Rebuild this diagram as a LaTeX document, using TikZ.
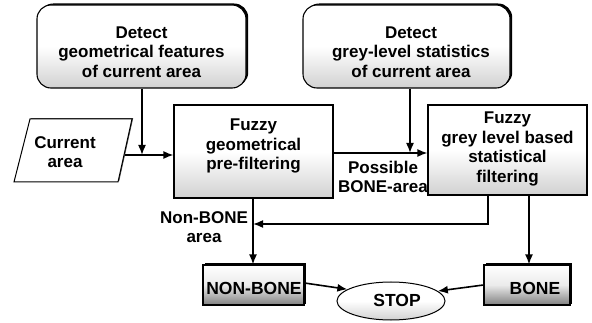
\documentclass[tikz,border=0pt]{standalone}
\usepackage{fontspec}
\setmainfont{Liberation Sans}
\usetikzlibrary{arrows.meta,shapes.geometric,shadows,calc}
\begin{document}
\begin{tikzpicture}[x=1pt,y=-1pt,
  txt/.style={font=\bfseries\fontsize{17}{19.5}\selectfont, align=center, inner sep=0pt},
  big/.style={font=\bfseries\fontsize{17.5}{20}\selectfont, inner sep=0pt},
  sh/.style={general shadow={fill=black, shadow xshift=2.2pt, shadow yshift=1.5pt}},
  shthin/.style={general shadow={fill=black!70, shadow xshift=1.2pt, shadow yshift=0.8pt}},
  speck/.style={top color=white, bottom color=black!18, middle color=white},
  speckdark/.style={top color=white, bottom color=black!50, middle color=black!8},
  rbox/.style={draw, line width=1.1pt, rounded corners=14pt, speck, sh, inner sep=0pt},
  sbox/.style={draw, line width=1.1pt, speck, shthin, inner sep=0pt},
  tbox/.style={draw, line width=1.1pt, speckdark, sh, inner sep=0pt},
  arr/.style={line width=1.6pt, -{Latex[length=10pt,width=8pt]}},
  ln/.style={line width=1.6pt}
]
\useasboundingbox (0,0) rectangle (592,323);

% top detect boxes
\node[rbox, minimum width=209pt, minimum height=83pt] (det1) at (141.5,46.5) {};
\node[txt] (det1t) at (141.5,52) {Detect\\geometrical features\\of current area};
\node[rbox, minimum width=207pt, minimum height=83pt] (det2) at (406.5,46.5) {};
\node[txt] (det2t) at (411,52) {Detect\\grey-level statistics\\of current area};

% current area parallelogram
\draw[line width=1pt, fill=white, shthin] (30,119) -- (132,119) -- (118,182) -- (14,182) -- cycle;
\node[txt] (cur) at (65,152) {Current\\area};
\coordinate (curR) at (125,155);

% filtering boxes
\node[sbox, minimum width=159pt, minimum height=93pt] (geo) at (253.5,151.5) {};
\node[txt] (geot) at (253.5,146) {Fuzzy\\geometrical\\pre-filtering};
\node[sbox, minimum width=159pt, minimum height=90pt] (grey) at (507.5,150) {};
\node[txt] (greyt) at (507.5,149) {Fuzzy\\grey level based\\statistical\\filtering};

% labels
\node[txt] (poss) at (383,177) {Possible\\BONE-area};
\node[txt] (nbl) at (204,227) {Non-BONE\\area};

% result boxes
\node[tbox, minimum width=101pt, minimum height=40pt] (nb) at (253.5,285) {};
\node[big] (nbt) at (254,288) {NON-BONE};
\node[tbox, minimum width=86pt, minimum height=40pt] (bone) at (527,285) {};
\node[big] (bonet) at (535,288) {BONE};
\node[draw, ellipse, line width=1pt, speck, minimum width=108pt, minimum height=38pt, inner sep=0pt] (stop) at (391,301) {};
\node[big] (stopt) at (397,300) {STOP};

% connectors
\coordinate (j1) at (142,155);
\coordinate (j2) at (410,153);
\coordinate (g1) at (488,224);
\coordinate (v1) at (253,224);
\draw[ln] (curR) -- (j1);
\draw[arr] (j1) -- (geo.west |- j1);
\draw[arr] (det1.south -| j1) -- (j1);
\draw[arr] (geo.east |- j2) -- (grey.west |- j2);
\draw[arr] (det2.south -| j2) -- (j2);
\draw[arr] (geo.south -| v1) -- (nb.north -| v1);
\draw[arr] (grey.south -| g1) -- (g1) -- (v1);
\draw[arr] (grey.south -| 529,0) -- (bone.north -| 529,0);
\draw[arr] (nb.east |- 0,283) -- (stop.165);
\draw[arr] (bone.west |- 0,285) -- (stop.12);
\end{tikzpicture}
\end{document}
